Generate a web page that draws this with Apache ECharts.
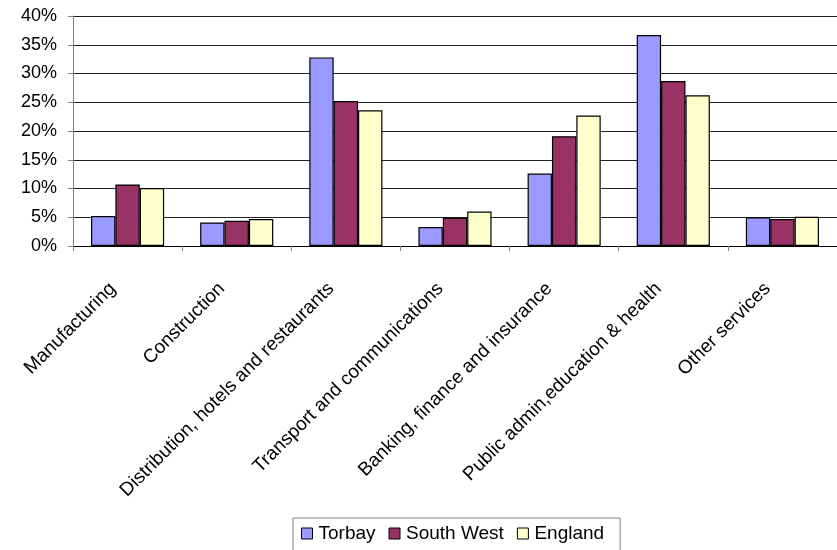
<!DOCTYPE html>
<html>
<head>
<meta charset="utf-8">
<script src="https://cdn.jsdelivr.net/npm/echarts@6/dist/echarts.min.js"></script>
<style>
  html, body { margin: 0; padding: 0; background: #fff; }
  #chart { width: 837px; height: 550px; }
</style>
</head>
<body>
<div id="chart"></div>
<script>
const categories = [
  'Manufacturing',
  'Construction',
  'Distribution, hotels and restaurants',
  'Transport and communications',
  'Banking, finance and insurance',
  'Public admin,education & health',
  'Other services'
]
const torbay = [5.2, 4.1, 32.8, 3.3, 12.6, 36.7, 5.0]
const southWest = [10.7, 4.4, 25.2, 4.9, 19.1, 28.7, 4.7]
const england = [10.1, 4.7, 23.6, 6.0, 22.7, 26.2, 5.1]

const font = "'Liberation Sans', Arial, sans-serif"
const chart = echarts.init(document.getElementById('chart'))

function barSeries(name, data, color) {
  return {
    name,
    type: 'bar',
    data,
    barGap: '0%',
    barCategoryGap: '33%',
    itemStyle: { color, borderColor: '#000', borderWidth: 1.2 },
    animation: false
  }
}

chart.setOption({
  backgroundColor: '#fff',
  animation: false,
  grid: { left: 73, right: -6, top: 16, bottom: 304 },
  legend: {
    left: 293,
    top: 518,
    padding: [6, 16, 8, 8],
    borderColor: '#808080',
    borderWidth: 1,
    itemWidth: 11,
    itemHeight: 11,
    itemGap: 13,
    icon: 'rect',
    itemStyle: { borderColor: '#000', borderWidth: 1 },
    textStyle: { fontFamily: font, fontSize: 19, color: '#000', padding: [0, 0, 0, 1] },
    data: ['Torbay', 'South West', 'England']
  },
  xAxis: {
    type: 'category',
    data: categories,
    axisLine: { lineStyle: { color: '#000', width: 1 } },
    axisTick: { show: true, length: 5, lineStyle: { color: '#808080' } },
    axisLabel: {
      rotate: 45,
      interval: 0,
      margin: 25,
      padding: [0, 21, 0, 0],
      fontFamily: font,
      fontSize: 19,
      color: '#000'
    }
  },
  yAxis: {
    type: 'value',
    min: 0,
    max: 40,
    interval: 5,
    axisLine: { show: true, lineStyle: { color: '#808080' } },
    axisTick: { show: true, length: 5, lineStyle: { color: '#808080' } },
    splitLine: { lineStyle: { color: '#222', width: 1 } },
    axisLabel: {
      margin: 16,
      fontFamily: font,
      fontSize: 18,
      color: '#000',
      formatter: v => v + '%'
    }
  },
  series: [
    barSeries('Torbay', torbay, '#9999FF'),
    barSeries('South West', southWest, '#993366'),
    barSeries('England', england, '#FFFFCC')
  ]
})
</script>
</body>
</html>
